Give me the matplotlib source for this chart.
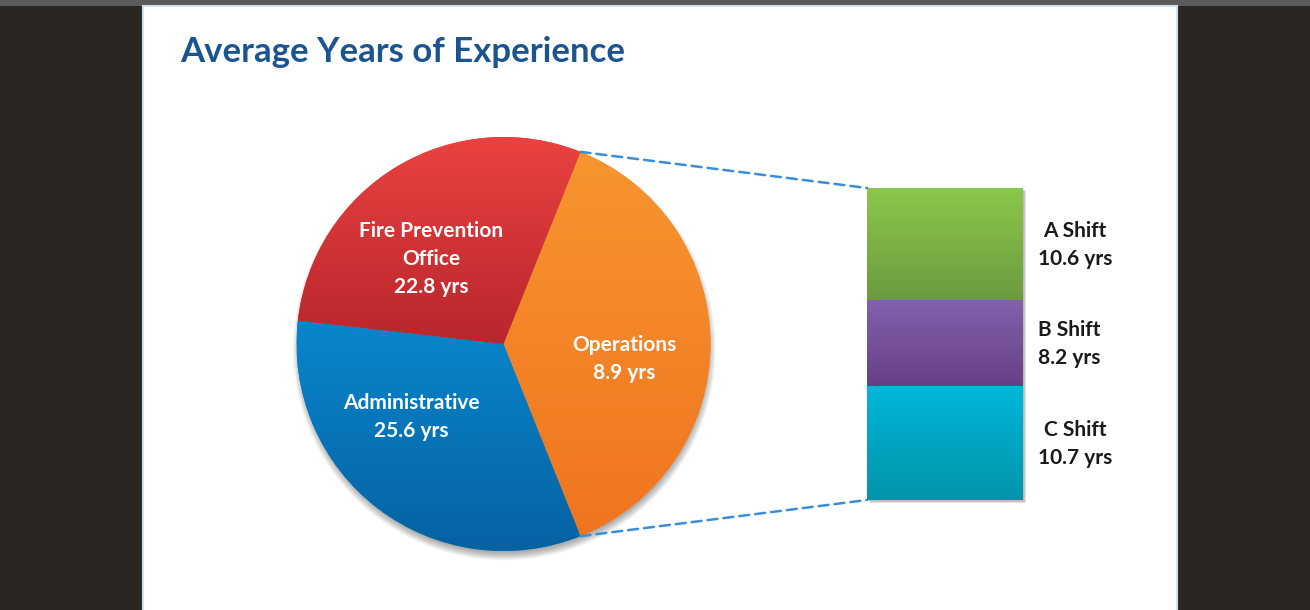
import numpy as np
import matplotlib
matplotlib.use('Agg')
from matplotlib import pyplot as plt
from matplotlib.colors import LinearSegmentedColormap
from matplotlib.patches import Rectangle, Circle, ConnectionPatch
from matplotlib.transforms import ScaledTranslation

plt.rcParams['font.family'] = ['Lato', 'DejaVu Sans']

W, H = 1310, 610

# data
slice_names = ['Operations', 'Administrative', 'Fire Prevention\nOffice']
slice_years = [8.9, 25.6, 22.8]
shift_names = ['A Shift', 'B Shift', 'C Shift']
shift_years = [10.6, 8.2, 10.7]

# the "Operations" wedge is the sum of the shifts shown in the bar (pie-of-bar)
pie_vals = [sum(shift_years), slice_years[1], slice_years[2]]

slice_colors = [('#f7952f', '#f07420'), ('#0a86cd', '#0562a2'), ('#ea4241', '#b8262b')]
shift_colors = [('#8cc84b', '#6b9b3f'), ('#8262ab', '#653f86'), ('#00b7d9', '#0094ab')]
label_pos = [(0.582, -0.072), (-0.444, -0.353), (-0.348, 0.411)]


def grad_cmap(c):
    return LinearSegmentedColormap.from_list('g', list(c))


grad = np.linspace(0, 1, 256).reshape(-1, 1)

fig = plt.figure(figsize=(W / 100, H / 100), dpi=100)
fig.patch.set_facecolor('#2a2723')

# background / panel in pixel coordinates
bg = fig.add_axes([0, 0, 1, 1])
bg.set_xlim(0, W)
bg.set_ylim(H, 0)
bg.axis('off')
bg.add_patch(Rectangle((0, 0), W, 6, facecolor='#5a5a5a', edgecolor='none'))
bg.add_patch(Rectangle((143, 6), 1034, H, facecolor='white', edgecolor='#cfe2f3', lw=1.5))
bg.text(180, 62, 'Average Years of Experience', fontsize=25, fontweight='bold',
        color='#1b5591', ha='left', va='baseline')

# pie
r_px = 207
cx, cy = 503.5, H - 344
half = 1.25 * r_px
ax_pie = fig.add_axes([(cx - half) / W, (cy - half) / H, 2 * half / W, 2 * half / H])
ax_pie.patch.set_alpha(0)
start = 360 * pie_vals[0] / sum(pie_vals) / 2
wedges, _ = ax_pie.pie(pie_vals, startangle=start, counterclock=False,
                       colors=[c[0] for c in slice_colors],
                       wedgeprops=dict(edgecolor='none'))

# soft shadow, mostly below the pie
for k in range(10):
    ax_pie.add_patch(Circle((0.004, -0.024), 0.985 + 0.004 * k, facecolor='black',
                            alpha=0.035, edgecolor='none', zorder=0.5))

for w, c in zip(wedges, slice_colors):
    x0, y0, x1, y1 = w.get_path().get_extents().extents
    im = ax_pie.imshow(grad, extent=(x0, x1, y0, y1), cmap=grad_cmap(c),
                       origin='upper', aspect='equal', zorder=w.get_zorder() + 0.1)
    im.set_clip_path(w)

ax_pie.set_xlim(-1.25, 1.25)
ax_pie.set_ylim(-1.25, 1.25)
ax_pie.axis('off')

for name, v, pos in zip(slice_names, slice_years, label_pos):
    ax_pie.text(pos[0], pos[1], f'{name}\n{v} yrs', ha='center', va='center',
                multialignment='center', linespacing=1.5, fontsize=15,
                fontweight='bold', color='white', zorder=5)

# bar of the Operations shifts
total = sum(shift_years)
ax_bar = fig.add_axes([867 / W, 110 / H, 156 / W, 312 / H])
ax_bar.patch.set_alpha(0)
bottoms = total - np.cumsum(shift_years)
bars = ax_bar.bar(np.zeros(len(shift_years)), shift_years, bottom=bottoms, width=1,
                  color=[c[0] for c in shift_colors], edgecolor='none', zorder=2)

for k in range(5):
    sh = Rectangle((-0.5, 0), 1, total, facecolor='black', alpha=0.06, edgecolor='none',
                   transform=ax_bar.transData + ScaledTranslation((1 + k * 0.6) / 100, -(1 + k * 0.6) / 100,
                                                                  fig.dpi_scale_trans),
                   clip_on=False, zorder=1)
    ax_bar.add_patch(sh)

for b, c in zip(bars, shift_colors):
    x, y, w_, h_ = b.get_x(), b.get_y(), b.get_width(), b.get_height()
    ax_bar.imshow(grad, extent=(x, x + w_, y, y + h_), cmap=grad_cmap(c),
                  origin='upper', aspect='auto', zorder=3)

ax_bar.set_xlim(-0.5, 0.5)
ax_bar.set_ylim(0, total)
ax_bar.axis('off')

for name, v, b in zip(shift_names, shift_years, bars):
    ax_bar.annotate(f'{name}\n{v} yrs', xy=(0.5, b.get_y() + b.get_height() / 2),
                    xytext=(15, -1), textcoords='offset pixels', ha='left', va='center',
                    multialignment='center', linespacing=1.5, fontsize=15,
                    fontweight='bold', color='#1a1a1a', annotation_clip=False)

# dashed connectors
th = np.radians(start)
for sgn, yb in [(1, total), (-1, 0)]:
    con = ConnectionPatch(xyA=(np.cos(th), sgn * np.sin(th)), coordsA=ax_pie.transData,
                          xyB=(-0.5, yb), coordsB=ax_bar.transData,
                          color='#3b8ed6', lw=1.8, linestyle=(0, (4.0, 2.4)))
    fig.add_artist(con)

fig.savefig('out.png', dpi=100, facecolor=fig.get_facecolor())
